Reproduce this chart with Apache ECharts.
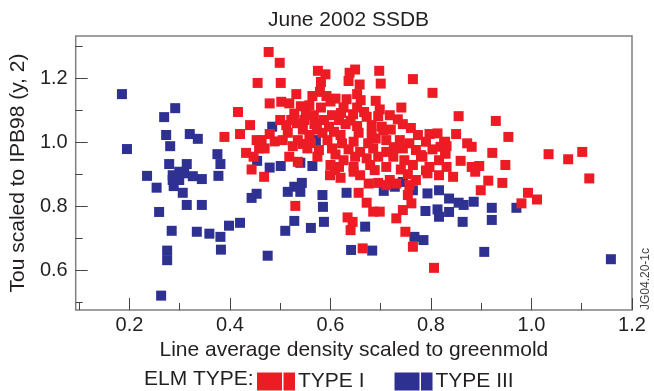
<!DOCTYPE html>
<html>
<head>
<meta charset="utf-8">
<script src="https://cdn.jsdelivr.net/npm/echarts@6/dist/echarts.min.js"></script>
<style>html,body{margin:0;padding:0;background:#fff;}#c{width:654px;height:391px;}</style>
</head>
<body>
<div id="c"></div>
<script>
// ---- data ----
var titleText = 'June 2002 SSDB';
var xName = 'Line average density scaled to greenmold';
var yName = 'Tou scaled to IPB98 (y, 2)';
var xMajorTicks = [0.2, 0.4, 0.6, 0.8, 1.0, 1.2];
var xMinorTicks = [0.1, 0.3, 0.5, 0.7, 0.9, 1.1];
var yMajorTicks = [0.6, 0.8, 1.0, 1.2];
var yMinorTicks = [0.5, 0.7, 0.9, 1.1, 1.3];
var seriesNames = ['TYPE I', 'TYPE III'];

var typeI_x = [0.455,0.416,0.440,0.420,0.389,0.453,0.463,0.458,0.432,0.447,0.443,0.477,0.468,0.499,0.501,0.575,0.590,0.638,0.649,0.697,
0.636,0.658,0.581,0.700,0.764,0.803,0.579,0.532,0.653,0.564,0.592,0.610,0.632,0.660,0.479,0.502,0.518,0.541,0.558,0.581,
0.626,0.653,0.698,0.741,0.528,0.551,0.603,0.645,0.695,0.522,0.548,0.587,0.617,0.672,0.734,0.512,0.568,0.597,0.630,0.653,
0.682,0.702,0.744,0.479,0.515,0.558,0.584,0.607,0.620,0.656,0.682,0.705,0.774,0.797,0.813,0.489,0.505,0.535,0.561,0.594,
0.623,0.646,0.675,0.711,0.738,0.757,0.790,0.826,0.469,0.525,0.554,0.577,0.603,0.636,0.659,0.685,0.711,0.744,0.770,0.803,
0.819,0.518,0.535,0.574,0.600,0.626,0.649,0.672,0.695,0.725,0.747,0.783,0.816,0.829,0.617,0.646,0.679,0.711,0.764,0.797,
0.530,0.599,0.620,0.646,0.659,0.676,0.656,0.672,0.685,0.698,0.634,0.644,0.640,0.664,0.695,0.718,0.731,0.754,0.757,0.770,
0.793,0.816,0.754,0.761,0.744,0.731,0.749,0.764,0.806,0.711,0.855,0.929,0.850,0.954,0.828,0.831,0.872,0.881,0.828,0.922,
0.859,1.034,1.073,1.101,0.831,0.881,0.896,0.948,0.888,0.844,0.914,0.942,0.899,1.115,0.993,1.011,0.980,0.609,0.688,0.740,0.790,
0.545,0.567,0.600,0.621,0.667,0.690,0.720,0.533,0.573,0.640,0.718,0.760,0.500,0.545,0.610,0.690,0.726,0.780];
var typeI_y = [1.186,1.095,1.054,1.026,1.017,1.007,1.007,0.981,0.967,0.955,0.915,1.283,0.892,1.249,1.186,1.224,1.213,1.218,1.228,1.224,
1.192,1.181,1.189,1.184,1.198,1.155,1.158,1.151,1.151,1.145,1.145,1.137,1.135,1.132,1.122,1.127,1.122,1.113,1.116,1.109,
1.109,1.109,1.103,1.109,1.090,1.090,1.085,1.088,1.082,1.070,1.070,1.070,1.070,1.080,1.072,1.054,1.057,1.049,1.057,1.051,
1.054,1.049,1.057,1.026,1.030,1.023,1.030,1.033,1.023,1.030,1.026,1.038,1.023,1.026,1.028,1.003,1.007,1.007,0.998,1.007,
0.997,1.002,0.997,1.007,1.007,0.997,1.002,0.997,0.981,0.988,0.981,0.976,0.981,0.978,0.970,0.981,0.970,0.981,0.976,0.978,
0.986,0.955,0.939,0.955,0.929,0.944,0.955,0.950,0.955,0.955,0.944,0.955,0.944,0.965,0.923,0.923,0.929,0.923,0.929,0.923,
0.801,0.897,0.889,0.908,0.897,0.871,0.842,0.811,0.783,0.783,0.765,0.751,0.725,0.668,0.873,0.882,0.871,0.900,0.866,0.882,
0.903,0.897,0.835,0.809,0.788,0.762,0.720,0.673,0.607,0.866,1.082,1.067,1.026,1.017,1.002,0.988,0.997,0.986,0.965,0.967,
0.942,0.963,0.947,0.970,0.923,0.923,0.926,0.929,0.908,0.892,0.880,0.873,0.850,0.887,0.842,0.821,0.809,0.913,0.913,0.915,0.912,
1.040,1.085,1.128,1.092,1.095,1.130,1.040,1.060,1.040,1.068,1.085,1.045,1.070,0.995,0.962,1.012,0.985,0.960];

var typeIII_x = [0.185,0.195,0.269,0.291,0.273,0.320,0.336,0.281,0.375,0.381,0.279,0.314,0.454,0.235,0.286,0.299,0.309,0.286,0.299,0.326,
0.344,0.377,0.254,0.288,0.306,0.314,0.344,0.259,0.284,0.334,0.359,0.381,0.398,0.420,0.382,0.275,0.275,0.263,0.443,0.453,
0.475,0.484,0.571,0.479,0.501,0.540,0.564,0.515,0.528,0.543,0.540,0.584,0.585,0.632,0.528,0.510,0.561,0.587,0.669,0.706,
0.744,0.728,0.764,0.793,0.816,0.836,0.789,0.813,0.816,0.767,0.785,0.641,0.683,0.836,0.855,0.865,0.885,0.863,0.921,0.921,
0.970,0.906,1.158];
var typeIII_y = [1.151,0.979,1.079,1.107,1.023,1.026,1.011,0.988,0.963,0.932,0.932,0.932,0.942,0.895,0.897,0.908,0.903,0.882,0.882,0.894,
0.885,0.895,0.858,0.863,0.842,0.804,0.804,0.782,0.723,0.720,0.714,0.704,0.739,0.748,0.664,0.661,0.631,0.520,0.826,0.839,
0.645,1.049,1.007,0.921,0.926,0.936,0.926,0.845,0.861,0.873,0.845,0.835,0.798,0.842,0.754,0.723,0.732,0.751,0.736,0.848,
0.876,0.861,0.850,0.840,0.850,0.824,0.785,0.790,0.767,0.704,0.694,0.663,0.661,0.782,0.811,0.804,0.814,0.751,0.795,0.757,
0.795,0.657,0.634];

function zip(a, b) { return a.map(function (v, i) { return [v, b[i]]; }); }

var FONT = '"Liberation Sans", Arial, Helvetica, sans-serif';
var TXT = '#231f20';
var TICK = '#444';
var XMIN = 0.093, XMAX = 1.2, YMIN = 0.475, YMAX = 1.333;
var ICON = 'path://M0,0L25,0L25,18L0,18Z M26.5,0L38,0L38,18L26.5,18Z';

var chart = echarts.init(document.getElementById('c'), null, {renderer: 'canvas'});
var option = {
  animation: false,
  backgroundColor: '#fff',
  textStyle: {fontFamily: FONT},
  title: {
    text: titleText, left: 263, top: 5,
    textStyle: {fontSize: 21, fontWeight: 'normal', color: TXT, fontFamily: FONT}
  },
  grid: {left: 68, right: 22, top: 36, bottom: 81, show: true, borderColor: '#808080', borderWidth: 1.5, backgroundColor: 'transparent'},
  xAxis: [{
    type: 'value', min: XMIN, max: XMAX, position: 'bottom',
    axisLine: {show: false},
    splitLine: {show: false},
    axisTick: {show: true, inside: true, length: 12, customValues: xMajorTicks, lineStyle: {color: TICK, width: 1}},
    axisLabel: {show: true, customValues: xMajorTicks, margin: 5, fontSize: 20, color: TXT, fontFamily: FONT,
      formatter: function (v) { return v.toFixed(1); }},
    name: xName, nameLocation: 'middle', nameGap: 29,
    nameTextStyle: {fontSize: 21, color: TXT, fontFamily: FONT}
  }, {
    type: 'value', min: XMIN, max: XMAX, position: 'bottom',
    axisLine: {show: false}, splitLine: {show: false},
    axisTick: {show: true, inside: true, length: 7, customValues: xMinorTicks, lineStyle: {color: TICK, width: 1}},
    axisLabel: {show: false}
  }],
  yAxis: [{
    type: 'value', min: YMIN, max: YMAX, position: 'left',
    axisLine: {show: false}, splitLine: {show: false},
    axisTick: {show: true, inside: true, length: 12, customValues: yMajorTicks, lineStyle: {color: TICK, width: 1}},
    axisLabel: {show: true, customValues: yMajorTicks, margin: 8, fontSize: 20, color: TXT, fontFamily: FONT,
      formatter: function (v) { return v.toFixed(1); }},
    name: yName, nameLocation: 'middle', nameGap: 37, nameRotate: 90,
    nameTextStyle: {fontSize: 21, color: TXT, fontFamily: FONT}
  }, {
    type: 'value', min: YMIN, max: YMAX, position: 'left',
    axisLine: {show: false}, splitLine: {show: false},
    axisTick: {show: true, inside: true, length: 7, customValues: yMinorTicks, lineStyle: {color: TICK, width: 1}},
    axisLabel: {show: false}
  }],
  legend: {
    left: 252, top: 366, padding: 5, itemWidth: 38, itemHeight: 18, itemGap: 30,
    data: [
      {name: seriesNames[0], icon: ICON},
      {name: seriesNames[1], icon: ICON}
    ],
    textStyle: {fontSize: 21, color: TXT, fontFamily: FONT, padding: [0, 0, 0, -2]},
    selectedMode: false
  },
  graphic: [
    {type: 'text', x: 144, y: 379.5, style: {text: 'ELM TYPE:', font: '21px ' + FONT, fill: TXT, verticalAlign: 'middle'}},
    {type: 'text', x: 646, y: 279, rotation: Math.PI / 2,
      style: {text: 'JG04.20-1c', font: '12px ' + FONT, fill: '#444', align: 'center', verticalAlign: 'middle'}}
  ],
  series: [
    {name: seriesNames[1], type: 'scatter', symbol: 'rect', symbolSize: 10, xAxisIndex: 0, yAxisIndex: 0,
      itemStyle: {color: '#2e3192', opacity: 1}, data: zip(typeIII_x, typeIII_y), z: 2},
    {name: seriesNames[0], type: 'scatter', symbol: 'rect', symbolSize: 10, xAxisIndex: 0, yAxisIndex: 0,
      itemStyle: {color: '#ed1c24', opacity: 1}, data: zip(typeI_x, typeI_y), z: 3}
  ]
};
chart.setOption(option);
</script>
</body>
</html>
